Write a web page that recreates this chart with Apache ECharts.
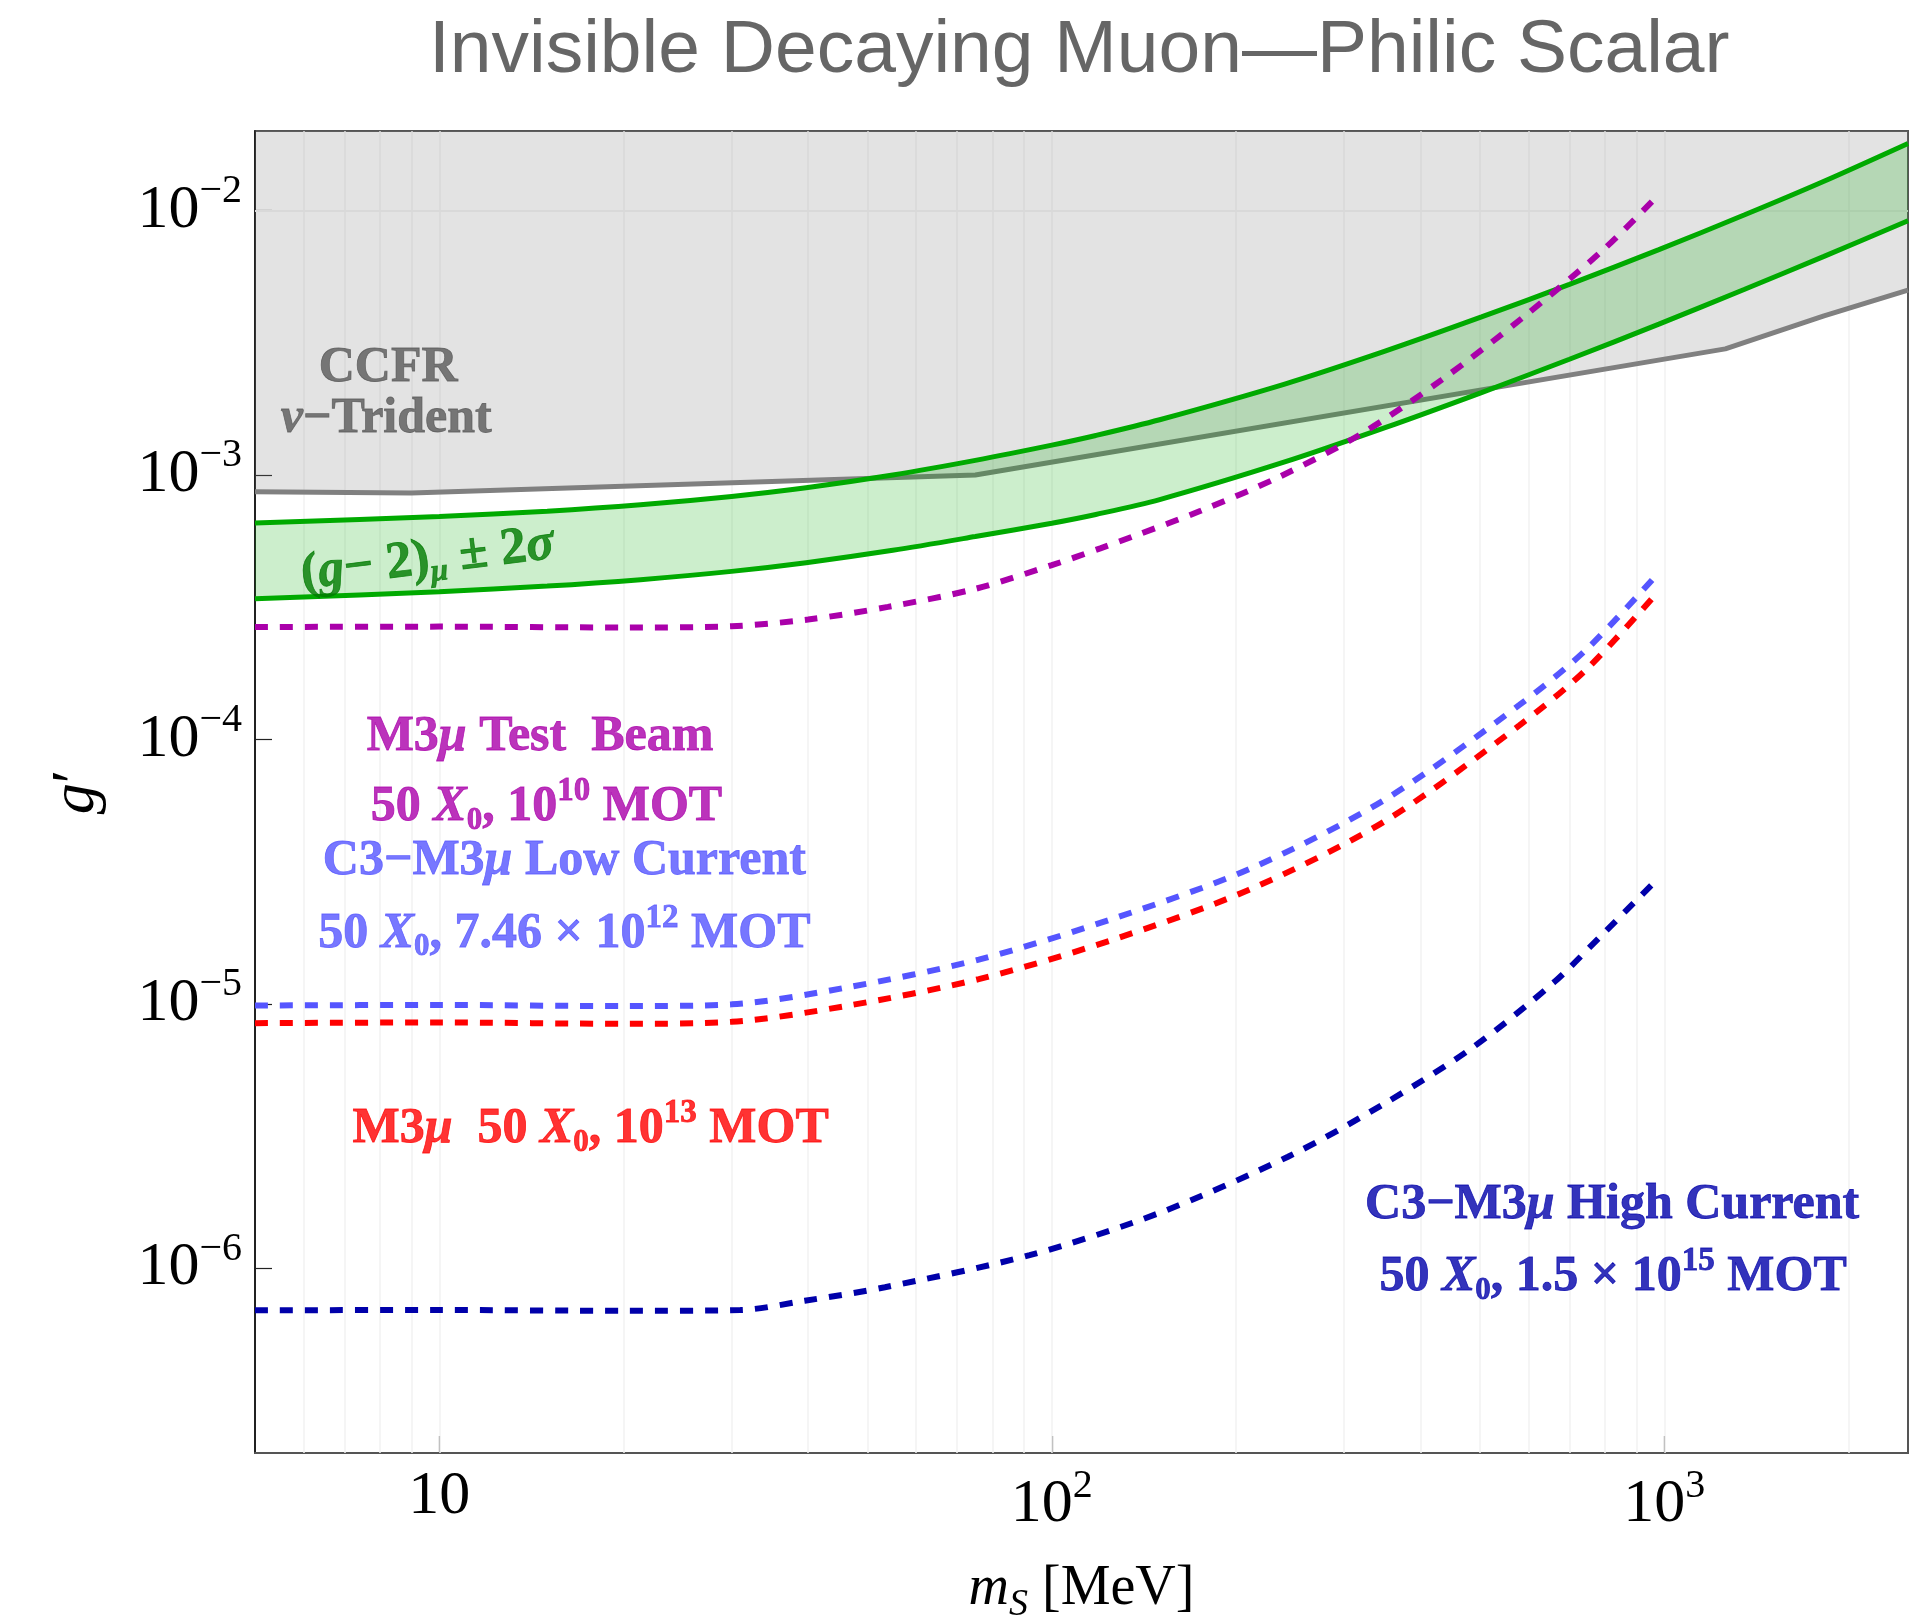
<!DOCTYPE html>
<html>
<head>
<meta charset="utf-8">
<title>Invisible Decaying Muon-Philic Scalar</title>
<script src="https://cdn.jsdelivr.net/npm/echarts@6/dist/echarts.min.js"></script>
<style>
  html, body { margin: 0; padding: 0; background: #fff; }
  #chart { width: 1911px; height: 1615px; }
</style>
</head>
<body>
<div id="chart"></div>
<script>
// tick labels: powers of ten shown on each axis
var xTickExponents = [1, 2, 3];
var yTickExponents = [-6, -5, -4, -3, -2];
// minor grid: mantissa x 10^decade
var gridMantissas = [1, 2, 3, 4, 5, 6, 7, 8, 9];
var xGridDecades = [0, 1, 2, 3];
var yGridDecades = [-7, -6, -5, -4, -3, -2];

// CCFR nu-trident bound (shaded above)
var ccfrMass = [5, 9, 75, 1258, 1823, 2500];
var ccfrG = [8.65e-4, 8.55e-4, 1.0e-3, 3.0e-3, 4.0e-3, 5.0e-3];

// (g-2)_mu +- 2 sigma band
var gm2Mass = [5, 10, 15, 21.3, 30, 39.7, 55, 75, 100, 118, 150, 240, 350, 503, 700, 980, 1350, 1823, 2500];
var gm2Upper = [6.58e-4, 6.96e-4, 7.3e-4, 7.72e-4, 8.3e-4, 8.95e-4, 1.0e-3, 1.136e-3, 1.297e-3, 1.411e-3, 1.618e-3,
                2.207e-3, 2.94e-3, 3.96e-3, 5.26e-3, 7.12e-3, 9.62e-3, 1.291e-2, 1.794e-2];
var gm2Lower = [3.4e-4, 3.62e-4, 3.8e-4, 4.02e-4, 4.32e-4, 4.66e-4, 5.19e-4, 5.85e-4, 6.57e-4, 7.09e-4, 8.07e-4,
                1.12e-3, 1.51e-3, 2.05e-3, 2.74e-3, 3.72e-3, 5.03e-3, 6.71e-3, 9.15e-3];

// M3mu test beam, 50 X0, 1e10 MOT
var testBeamMass = [5, 10, 20, 30, 40, 54, 75, 100, 120, 138, 175, 235, 320, 433, 586, 793, 980];
var testBeamG = [2.66e-4, 2.67e-4, 2.65e-4, 2.68e-4, 2.84e-4, 3.17e-4, 3.71e-4, 4.56e-4, 5.28e-4, 5.94e-4,
                 7.32e-4, 9.83e-4, 1.43e-3, 2.29e-3, 3.92e-3, 7.07e-3, 1.15e-2];

// C3-M3mu low current, 50 X0, 7.46e12 MOT
var lowCurMass = [5, 10, 20, 30, 46, 76, 126, 210, 349, 580, 748, 980];
var lowCurG = [9.85e-6, 9.9e-6, 9.8e-6, 9.95e-6, 1.15e-5, 1.47e-5, 2.1e-5, 3.23e-5, 5.9e-5, 1.35e-4, 2.2e-4, 4.28e-4];

// M3mu 50 X0, 1e13 MOT
var m3muMass = [5, 10, 20, 30, 46, 76, 126, 210, 349, 580, 748, 980];
var m3muG = [8.45e-6, 8.5e-6, 8.4e-6, 8.55e-6, 9.8e-6, 1.24e-5, 1.75e-5, 2.7e-5, 4.89e-5, 1.13e-4, 1.85e-4, 3.65e-4];

// C3-M3mu high current, 50 X0, 1.5e15 MOT
var highCurMass = [5, 10, 20, 31, 39.5, 53.4, 92, 149, 243, 349, 485, 659, 787, 980];
var highCurG = [6.93e-7, 6.95e-7, 6.9e-7, 6.95e-7, 7.53e-7, 8.47e-7, 1.12e-6, 1.61e-6, 2.64e-6, 4.19e-6,
                6.8e-6, 1.2e-5, 1.8e-5, 3.0e-5];

// text annotations (anchored in data space)
var noteText = [
  'CCFR',
  '{i|ν}−Trident',
  '({i|g}− 2){subi|μ} ± 2{i|σ}',
  'M3{i|μ} Test  Beam',
  '50 {i|X}{sub|0}, 10{sup|10} MOT',
  'C3−M3{i|μ} Low Current',
  '50 {i|X}{sub|0}, 7.46 × 10{sup|12} MOT',
  'M3{i|μ}  50 {i|X}{sub|0}, 10{sup|13} MOT',
  'C3−M3{i|μ} High Current',
  '50 {i|X}{sub|0}, 1.5 × 10{sup|15} MOT'
];
var noteMass = [8.25, 8.19, 9.57, 14.6, 14.96, 16.0, 16.0, 17.66, 822, 825];
var noteG = [2.54e-3, 1.63e-3, 4.78e-4, 1.02e-4, 5.53e-5, 3.47e-5, 1.84e-5, 3.36e-6, 1.73e-6, 9.23e-7];
var noteColor = ['#595959', '#595959', '#007a00', '#aa00aa', '#aa00aa', '#5555ff', '#5555ff', '#ff0000', '#0000aa', '#0000aa'];
var noteAngle = [0, 0, 7, 0, 0, 0, 0, 0, 0, 0];
var noteSize = [50, 50, 52, 50, 50, 50, 50, 50, 50, 50];

var SMOOTH = 0.3;

function pairs(xs, ys) {
  return xs.map(function (x, i) { return [x, ys[i]]; });
}

function powerOfTen(v, list) {
  var e = Math.round(Math.log10(v));
  if (Math.abs(Math.log10(v) - e) > 1e-6) return null;
  return list.indexOf(e) >= 0 ? e : null;
}

var gridX = [];
xGridDecades.forEach(function (d) {
  gridMantissas.forEach(function (m) {
    var v = m * Math.pow(10, d);
    if (v > 5.01 && v < 2499) gridX.push({ xAxis: v });
  });
});
var gridY = [];
yGridDecades.forEach(function (d) {
  gridMantissas.forEach(function (m) {
    var v = m * Math.pow(10, d);
    if (v > 2.01e-7 && v < 0.0199) gridY.push({ yAxis: v });
  });
});

var serif = 'Liberation Serif';
var tickRich = {
  b: { fontFamily: serif, fontSize: 62, color: '#000' },
  s: { fontFamily: serif, fontSize: 40, color: '#000', padding: [0, 0, 38, 0] }
};
var dashed = [13, 12];

function dashedLine(name, xs, ys, color) {
  return {
    name: name,
    type: 'line',
    data: pairs(xs, ys),
    showSymbol: false,
    symbol: 'none',
    smooth: SMOOTH,
    z: 5,
    lineStyle: { color: color, width: 6, type: dashed, cap: 'butt' }
  };
}

var chart = echarts.init(document.getElementById('chart'));

var option = {
  animation: false,
  backgroundColor: '#fff',
  title: {
    text: 'Invisible Decaying Muon—Philic Scalar',
    left: 429,
    top: 14,
    padding: 0,
    textStyle: { fontFamily: 'Liberation Sans', fontSize: 75, fontWeight: 'normal', color: '#666' }
  },
  grid: {
    left: 255, right: 3, top: 131, bottom: 162,
    outerBoundsMode: 'none',
    containLabel: false,
    show: true, borderColor: '#555', borderWidth: 2, backgroundColor: 'transparent'
  },
  xAxis: {
    type: 'log',
    logBase: 10,
    min: 5,
    max: 2500,
    axisLine: { show: true, lineStyle: { color: '#555', width: 2 } },
    axisTick: { show: true, inside: true, length: 17, lineStyle: { color: '#333', width: 1.2 } },
    axisLabel: {
      margin: 13,
      showMinLabel: false,
      showMaxLabel: false,
      formatter: function (v) {
        var e = powerOfTen(v, xTickExponents);
        if (e === null) return '';
        return e === 1 ? '{b|10}' : '{b|10}{s|' + e + '}';
      },
      rich: tickRich
    },
    splitLine: { show: false },
    name: '{i|m}{sub|S} [MeV]',
    nameLocation: 'middle',
    nameGap: 101,
    nameTextStyle: {
      fontFamily: serif, fontSize: 56, color: '#000',
      rich: {
        i: { fontFamily: serif, fontSize: 56, fontStyle: 'italic', color: '#000' },
        sub: { fontFamily: serif, fontSize: 38, fontStyle: 'italic', color: '#000', padding: [32, 0, 0, 0] }
      }
    }
  },
  yAxis: {
    type: 'log',
    logBase: 10,
    min: 2e-7,
    max: 0.02,
    axisLine: { show: true, lineStyle: { color: '#111', width: 1.5 } },
    axisTick: { show: true, inside: true, length: 17, lineStyle: { color: '#222', width: 1.2 } },
    axisLabel: {
      margin: 13,
      showMinLabel: false,
      showMaxLabel: false,
      formatter: function (v) {
        var e = powerOfTen(v, yTickExponents);
        if (e === null) return '';
        return '{b|10}{s|−' + Math.abs(e) + '}';
      },
      rich: tickRich
    },
    splitLine: { show: false },
    name: '{i|g}′',
    nameLocation: 'middle',
    nameGap: 147,
    nameRotate: 90,
    nameTextStyle: {
      fontFamily: serif, fontSize: 62, color: '#000',
      rich: { i: { fontFamily: serif, fontSize: 62, fontStyle: 'italic', color: '#000' } }
    }
  },
  series: [
    {
      name: 'grid',
      type: 'line',
      data: [],
      silent: true,
      z: 1,
      markLine: {
        silent: true,
        z: 1,
        symbol: 'none',
        label: { show: false },
        lineStyle: { color: '#f2f2f2', width: 1.5, type: 'solid' },
        emphasis: { disabled: true },
        data: gridX.concat(gridY)
      }
    },
    {
      name: 'CCFR',
      type: 'line',
      data: pairs(ccfrMass, ccfrG),
      showSymbol: false,
      symbol: 'none',
      z: 2,
      lineStyle: { color: '#808080', width: 5 },
      areaStyle: { origin: 'end', color: 'rgba(128,128,128,0.22)', opacity: 1 }
    },
    {
      // fill between the two (g-2) bounds; corners doubled so the smoothing keeps them sharp
      name: 'g-2 band',
      type: 'custom',
      silent: true,
      z: 3,
      data: gm2Mass.map(function (m, i) { return [m, gm2Lower[i], gm2Upper[i]]; }),
      encode: { x: 0, y: [1, 2] },
      renderItem: function (params, api) {
        if (params.dataIndex !== 0) return null;
        var n = gm2Mass.length;
        var pts = [];
        for (var i = 0; i < n; i++) {
          var p = api.coord([gm2Mass[i], gm2Upper[i]]);
          pts.push(p);
          if (i === 0 || i === n - 1) pts.push(p.slice());
        }
        for (var j = n - 1; j >= 0; j--) {
          var q = api.coord([gm2Mass[j], gm2Lower[j]]);
          pts.push(q);
          if (j === 0 || j === n - 1) pts.push(q.slice());
        }
        return {
          type: 'polygon',
          shape: { points: pts, smooth: SMOOTH },
          style: { fill: 'rgba(0,170,0,0.2)' }
        };
      }
    },
    {
      name: 'g-2 lower',
      type: 'line',
      data: pairs(gm2Mass, gm2Lower),
      showSymbol: false,
      symbol: 'none',
      smooth: SMOOTH,
      z: 4,
      lineStyle: { color: '#00aa00', width: 5 }
    },
    {
      name: 'g-2 upper',
      type: 'line',
      data: pairs(gm2Mass, gm2Upper),
      showSymbol: false,
      symbol: 'none',
      smooth: SMOOTH,
      z: 4,
      lineStyle: { color: '#00aa00', width: 5 }
    },
    dashedLine('M3mu test beam', testBeamMass, testBeamG, '#aa00aa'),
    dashedLine('C3-M3mu low current', lowCurMass, lowCurG, '#5555ff'),
    dashedLine('M3mu', m3muMass, m3muG, '#ff0000'),
    dashedLine('C3-M3mu high current', highCurMass, highCurG, '#0000aa'),
    {
      name: 'notes',
      type: 'scatter',
      symbolSize: 1,
      itemStyle: { color: 'transparent' },
      silent: true,
      z: 6,
      data: noteMass.map(function (m, i) {
        return {
          value: [m, noteG[i]],
          label: {
            color: noteColor[i],
            textBorderColor: noteColor[i],
            rotate: noteAngle[i],
            fontSize: noteSize[i]
          }
        };
      }),
      label: {
        show: true,
        position: 'inside',
        align: 'center',
        verticalAlign: 'middle',
        fontFamily: serif,
        fontWeight: 'bold',
        fontSize: 50,
        textBorderWidth: 0.8,
        formatter: function (p) { return noteText[p.dataIndex]; },
        rich: {
          i: { fontStyle: 'italic' },
          subi: { fontStyle: 'italic', fontSize: 31, padding: [27, 0, 0, 0] },
          sub: { fontSize: 31, padding: [27, 0, 0, 0] },
          sup: { fontSize: 33, padding: [0, 0, 31, 0] }
        }
      }
    }
  ]
};

chart.setOption(option);
</script>
</body>
</html>
